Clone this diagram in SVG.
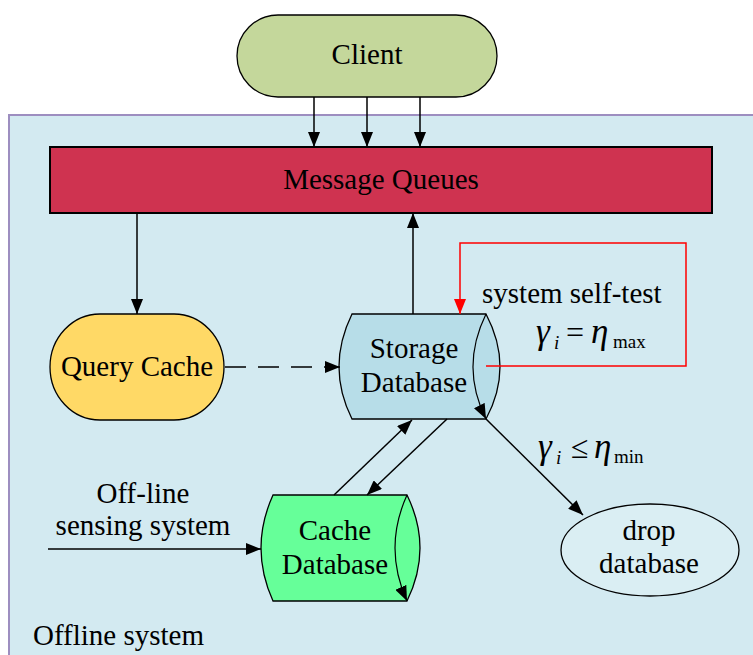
<svg xmlns="http://www.w3.org/2000/svg" width="753" height="655" viewBox="0 0 753 655">
<style>
  text { font-family: 'Liberation Serif', 'DejaVu Serif', serif; fill: #000; }
  .t { font-size: 29px; }
  .m { font-size: 35px; font-style: italic; }
  .op { font-size: 32px; }
  .s { font-size: 19px; }
  .si { font-size: 19px; font-style: italic; }
  .shape { stroke: #000; stroke-width: 1.3; }
  .conn { fill: none; stroke: #000; stroke-width: 1.5; }
</style>
<defs>
  <marker id="ah" markerUnits="userSpaceOnUse" markerWidth="16" markerHeight="12" refX="15" refY="6" orient="auto">
    <path d="M0,0 L15,6 L0,12 z" fill="#000"/>
  </marker>
  <marker id="ahr" markerUnits="userSpaceOnUse" markerWidth="16" markerHeight="12" refX="15" refY="6" orient="auto">
    <path d="M0,0 L15,6 L0,12 z" fill="#FF0000"/>
  </marker>
</defs>
<rect x="0" y="0" width="753" height="655" fill="#FFFFFF"/>
<g id="offline-frame">
  <rect x="9" y="115" width="760" height="560" fill="#D3EAF1" stroke="#9D8EC0" stroke-width="2"/>
  <text class="t" x="33" y="645">Offline system</text>
</g>
<g id="client">
  <rect class="shape" x="237" y="15" width="260" height="82" rx="41" ry="41" fill="#C4D79B"/>
  <text class="t" x="367" y="64" text-anchor="middle">Client</text>
</g>
<g id="message-queues">
  <rect x="50" y="147" width="662" height="66" fill="#CF3350" stroke="#000" stroke-width="2"/>
  <text class="t" x="381" y="189" text-anchor="middle">Message Queues</text>
</g>
<g id="query-cache">
  <rect class="shape" x="50" y="314" width="174" height="106" rx="50" ry="53" fill="#FFD966"/>
  <text class="t" x="137" y="376" text-anchor="middle">Query Cache</text>
</g>
<g id="storage-database">
  <path class="shape" d="M352,314 L486,314 Q514,367 486,419 L352,419 Q326,367 352,314 Z" fill="#B7DDE8"/>
  <path d="M486,314 Q460,367 486,419" fill="none" stroke="#000" stroke-width="1.2" marker-end="url(#ah)"/>
  <text class="t" x="414" y="358" text-anchor="middle">Storage</text>
  <text class="t" x="414" y="392" text-anchor="middle">Database</text>
</g>
<g id="cache-database">
  <path class="shape" d="M273,495 L407,495 Q433,548 407,601 L273,601 Q249,548 273,495 Z" fill="#66FF99"/>
  <path d="M407,495 Q383,548 407,601" fill="none" stroke="#000" stroke-width="1.2" marker-end="url(#ah)"/>
  <text class="t" x="335" y="540" text-anchor="middle">Cache</text>
  <text class="t" x="335" y="574" text-anchor="middle">Database</text>
</g>
<g id="drop-database">
  <ellipse class="shape" cx="650" cy="550" rx="89" ry="46" fill="#DAEEF3"/>
  <text class="t" x="649" y="540" text-anchor="middle">drop</text>
  <text class="t" x="649" y="573" text-anchor="middle">database</text>
</g>
<g id="off-line-sensing">
  <text class="t" x="143" y="503" text-anchor="middle">Off-line</text>
  <text class="t" x="143" y="535" text-anchor="middle">sensing system</text>
</g>
<g id="labels">
  <text class="t" x="482" y="303">system self-test</text>
  <text class="m" x="536" y="343">γ</text>
  <text class="si" x="554" y="349">i</text>
  <text class="op" x="566" y="343">=</text>
  <text class="m" x="591" y="343">η</text>
  <text class="s" x="613" y="348">max</text>
  <text class="m" x="538" y="458">γ</text>
  <text class="si" x="556" y="464">i</text>
  <text class="op" x="571" y="458">≤</text>
  <text class="m" x="594" y="458">η</text>
  <text class="s" x="614" y="463">min</text>
</g>
<g id="connectors">
  <line class="conn" x1="314" y1="97" x2="314" y2="147" marker-end="url(#ah)"/>
  <line class="conn" x1="367" y1="97" x2="367" y2="147" marker-end="url(#ah)"/>
  <line class="conn" x1="420" y1="97" x2="420" y2="147" marker-end="url(#ah)"/>
  <line class="conn" x1="137" y1="213" x2="137" y2="314" marker-end="url(#ah)"/>
  <line class="conn" x1="413" y1="314" x2="413" y2="213" marker-end="url(#ah)"/>
  <line class="conn" x1="225" y1="367" x2="340" y2="367" stroke-dasharray="21 12" marker-end="url(#ah)"/>
  <line class="conn" x1="334" y1="495" x2="412" y2="420" marker-end="url(#ah)"/>
  <line class="conn" x1="447" y1="419" x2="367" y2="495" marker-end="url(#ah)"/>
  <line class="conn" x1="486" y1="419" x2="583" y2="515" marker-end="url(#ah)"/>
  <line class="conn" x1="48" y1="549" x2="261" y2="549" marker-end="url(#ah)"/>
  <polyline points="486,366 686,366 686,243 460,243 460,314" fill="none" stroke="#FF0000" stroke-width="1.5" marker-end="url(#ahr)"/>
</g>
</svg>
